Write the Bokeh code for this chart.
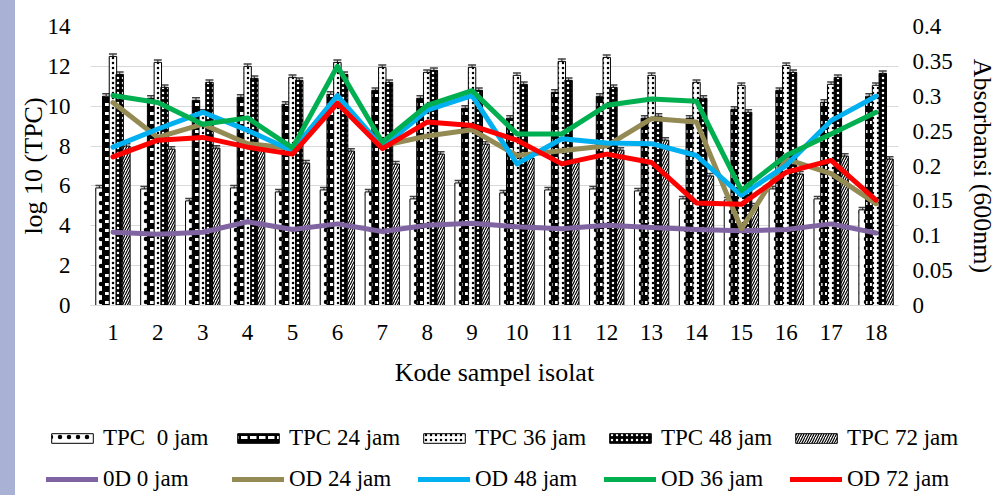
from bokeh.plotting import figure
from bokeh.models import (Range1d, LinearAxis, FixedTicker, NumeralTickFormatter, Legend,
                          LegendItem, Whisker, ColumnDataSource, TeeHead, Div)
from bokeh.transform import dodge
from bokeh.layouts import row, column
from bokeh.embed import file_html
from bokeh.resources import INLINE

# ---------------- data ----------------
categories = list(range(1, 19))
tpc_ticks = [0, 2, 4, 6, 8, 10, 12, 14]
od_ticks = [0, 0.05, 0.1, 0.15, 0.2, 0.25, 0.3, 0.35, 0.4]

TPC_0 = [5.9, 5.85, 5.25, 5.9, 5.7, 5.8, 5.7, 5.35, 6.15, 5.65, 5.8, 5.85, 5.75, 5.35, 5.3, 5.85, 5.35, 4.8]
TPC_24 = [10.5, 10.4, 10.3, 10.45, 10.1, 10.6, 10.8, 10.4, 9.9, 9.4, 10.7, 10.5, 9.4, 9.4, 9.85, 10.8, 10.2, 10.5]
TPC_36 = [12.5, 12.2, 9.7, 12.0, 11.45, 12.2, 11.95, 11.7, 11.95, 11.55, 12.25, 12.45, 11.55, 11.2, 11.05, 12.05, 11.1, 11.05]
TPC_48 = [11.6, 10.95, 11.2, 11.4, 11.3, 11.6, 11.2, 11.8, 10.8, 11.1, 11.3, 10.95, 9.5, 10.4, 9.7, 11.7, 11.45, 11.65]
TPC_72 = [8.0, 7.85, 7.9, 7.85, 7.15, 7.75, 7.1, 7.6, 8.1, 7.4, 7.2, 7.8, 8.3, 6.5, 5.0, 6.6, 7.5, 7.35]
TPC_ERR = 0.12

OD_0 = [0.105, 0.102, 0.105, 0.120, 0.109, 0.117, 0.106, 0.115, 0.118, 0.113, 0.110, 0.115, 0.112, 0.109, 0.107, 0.109, 0.117, 0.104]
OD_24 = [0.291, 0.241, 0.260, 0.232, 0.225, 0.290, 0.229, 0.243, 0.252, 0.215, 0.222, 0.229, 0.268, 0.263, 0.110, 0.210, 0.189, 0.146]
OD_48 = [0.227, 0.253, 0.277, 0.251, 0.222, 0.301, 0.227, 0.280, 0.301, 0.203, 0.239, 0.233, 0.232, 0.215, 0.158, 0.201, 0.265, 0.300]
OD_36 = [0.301, 0.291, 0.260, 0.269, 0.226, 0.343, 0.234, 0.287, 0.308, 0.246, 0.246, 0.287, 0.296, 0.293, 0.165, 0.215, 0.246, 0.277]
OD_72 = [0.213, 0.237, 0.241, 0.227, 0.217, 0.290, 0.225, 0.263, 0.258, 0.237, 0.203, 0.217, 0.205, 0.147, 0.145, 0.191, 0.208, 0.151]

bar_labels = ["TPC  0 jam", "TPC 24 jam", "TPC 36 jam", "TPC 48 jam", "TPC 72 jam"]
line_labels = ["0D 0 jam", "OD 24 jam", "OD 48 jam", "OD 36 jam", "OD 72 jam"]

# ---------------- styling ----------------
FONT = "Liberation Serif"
TICK_SIZE = "23px"
TITLE_SIZE = "26px"
GRID = "#D9D9D9"

bar_styles = [
    dict(fill_color="white", hatch_color="black", hatch_pattern="dot", hatch_scale=9, hatch_weight=1.2),
    dict(fill_color="black", hatch_color="white", hatch_pattern="horizontal_dash", hatch_scale=9, hatch_weight=3),
    dict(fill_color="white", hatch_color="black", hatch_pattern="dot", hatch_scale=5, hatch_weight=1.2),
    dict(fill_color="black", hatch_color="white", hatch_pattern="dot", hatch_scale=5, hatch_weight=1.5),
    dict(fill_color="white", hatch_color="black", hatch_pattern="right_diagonal_line", hatch_scale=5, hatch_weight=1.2),
]
line_colors = ["#8064A2", "#948A54", "#00B0F0", "#00B050", "#FF0000"]

p = figure(width=986, height=395, x_range=Range1d(0.5, 18.5), y_range=Range1d(0, 14),
           output_backend="svg", toolbar_location=None,
           min_border_left=75, min_border_right=103, min_border_top=26, min_border_bottom=90)
p.outline_line_color = None
p.background_fill_color = "white"
p.border_fill_color = "white"

p.xgrid.visible = False
p.ygrid.ticker = FixedTicker(ticks=tpc_ticks)
p.ygrid.grid_line_color = GRID
p.ygrid.grid_line_width = 1

def style_axis(ax, standoff, title, title_standoff):
    ax.major_tick_line_color = None
    ax.minor_tick_line_color = None
    ax.major_tick_out = 0
    ax.major_tick_in = 0
    ax.minor_tick_out = 0
    ax.minor_tick_in = 0
    ax.major_label_text_font = FONT
    ax.major_label_text_font_size = TICK_SIZE
    ax.major_label_text_color = "black"
    ax.major_label_standoff = standoff
    ax.axis_label = title
    ax.axis_label_text_font = FONT
    ax.axis_label_text_font_size = TITLE_SIZE
    ax.axis_label_text_font_style = "normal"
    ax.axis_label_text_color = "black"
    ax.axis_label_standoff = title_standoff

xa = p.xaxis[0]
xa.ticker = FixedTicker(ticks=categories)
xa.axis_line_color = GRID
style_axis(xa, 19, "Kode sampel isolat", 15)

ya = p.yaxis[0]
ya.ticker = FixedTicker(ticks=tpc_ticks)
ya.axis_line_color = None
style_axis(ya, 20, "log 10 (TPC)", -3)

p.extra_y_ranges = {"od": Range1d(0, 0.4)}
ra = LinearAxis(y_range_name="od", ticker=FixedTicker(ticks=od_ticks),
                formatter=NumeralTickFormatter(format="0.[00]"))
ra.axis_line_color = None
style_axis(ra, 14, "Absorbansi (600nm)", 12)
p.add_layout(ra, "right")

# ---------------- bars ----------------
series = [TPC_0, TPC_24, TPC_36, TPC_48, TPC_72]
offsets = [-0.3, -0.15, 0.0, 0.15, 0.3]
for vals, off, st in zip(series, offsets, bar_styles):
    src = ColumnDataSource(dict(x=categories, top=vals,
                                upper=[v + TPC_ERR for v in vals],
                                lower=[v - TPC_ERR for v in vals]))
    p.vbar(x=dodge("x", off, range=p.x_range), top="top", width=0.165, source=src,
           line_color="black", line_width=1, **st)
    wk = Whisker(source=src, base=dodge("x", off, range=p.x_range), upper="upper", lower="lower",
                 line_color="#404040", line_width=1.2,
                 upper_head=TeeHead(size=8, line_color="#404040", line_width=1.5),
                 lower_head=TeeHead(size=8, line_color="#404040", line_width=1.5))
    p.add_layout(wk)

# ---------------- lines ----------------
lines = [OD_0, OD_24, OD_48, OD_36, OD_72]
for vals, c in zip(lines, line_colors):
    p.line(categories, vals, y_range_name="od", line_color=c, line_width=5,
           line_join="round", line_cap="round")

# ---------------- legend figure (key glyphs sit outside its visible range) ----------------
lg = figure(width=986, height=100, x_range=Range1d(0, 1), y_range=Range1d(0, 1),
            output_backend="svg", toolbar_location=None, x_axis_type=None, y_axis_type=None,
            min_border_left=0, min_border_right=0, min_border_top=0, min_border_bottom=0)
lg.outline_line_color = None
lg.xgrid.visible = False
lg.ygrid.visible = False
lg.background_fill_color = "white"
lg.border_fill_color = "white"

key_x = [5]
key_y = [5]
bar_keys = [lg.vbar(x=key_x, top=key_y, width=0.1, line_color="black", line_width=1, **st)
            for st in bar_styles]
line_keys = [lg.line(x=key_x, y=key_y, line_color=c, line_width=5, line_cap="round")
             for c in line_colors]

def make_legend(labels, renderers, loc):
    return Legend(items=[LegendItem(label=l, renderers=[r]) for l, r in zip(labels, renderers)],
                  orientation="horizontal", location=loc,
                  glyph_width=52, glyph_height=12, label_width=129, label_height=27,
                  spacing=0, padding=0, margin=0, label_standoff=5,
                  label_text_font=FONT, label_text_font_size="23px", label_text_color="black",
                  border_line_color=None, background_fill_alpha=0)

lg.add_layout(make_legend(bar_labels, bar_keys, (31, 44)))
lg.add_layout(make_legend(line_labels, line_keys, (31, 3)))

strip = Div(text="", width=15, height=495, margin=0,
            styles={"background-color": "#A9B1D5"})
layout = row(strip, column(p, row(lg, spacing=0), spacing=0), spacing=0)

open("out.html", "w").write(file_html(layout, INLINE))
